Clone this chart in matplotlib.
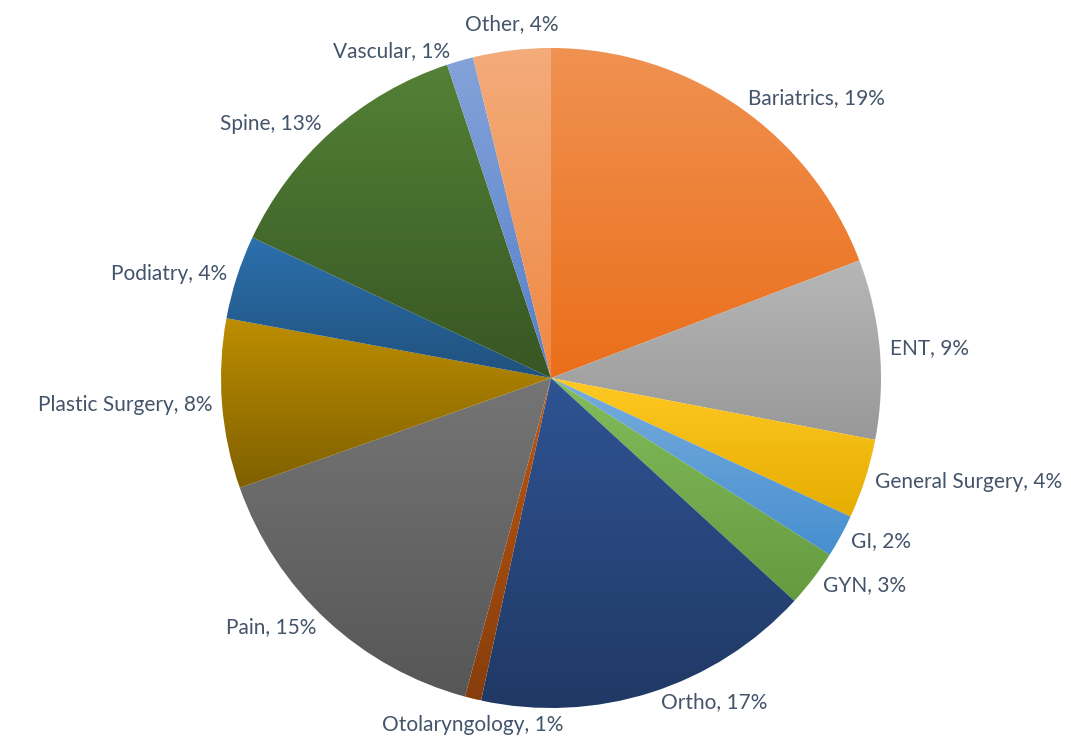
import colorsys
import matplotlib.pyplot as plt
import matplotlib.colors as mcolors
import numpy as np

plt.rcParams['font.family'] = ['Lato', 'DejaVu Sans']

specialties = ['Bariatrics', 'ENT', 'General Surgery', 'GI', 'GYN', 'Ortho',
               'Otolaryngology', 'Pain', 'Plastic Surgery', 'Podiatry', 'Spine',
               'Vascular', 'Other']
shares = [19.2, 8.8, 3.9, 2.1, 2.8, 16.6, 0.8, 15.4, 8.3, 4.1, 12.9, 1.3, 3.8]
colors = ['#ED7D31', '#A5A5A5', '#FFC000', '#5B9BD5', '#70AD47', '#264478',
          '#9E480E', '#636363', '#997300', '#255E91', '#43682B', '#698ED0',
          '#F1975A']

W, H = 1071, 740
cx, cy, R = 551, H - 378, 330
text_color = '#44546A'


def shade(c, dl):
    r, g, b = mcolors.to_rgb(c)
    h, l, s = colorsys.rgb_to_hls(r, g, b)
    return colorsys.hls_to_rgb(h, min(1, max(0, l + dl)), s)


fig = plt.figure(figsize=(W / 100, H / 100), dpi=100)
ax = fig.add_axes([0, 0, 1, 1])

wedges, _ = ax.pie(shares, colors=colors, startangle=90, counterclock=False,
                   center=(cx, cy), radius=R, frame=True,
                   wedgeprops=dict(linewidth=0))
ax.set_xlim(0, W)
ax.set_ylim(0, H)
ax.set_aspect('equal')
ax.axis('off')

# vertical gradient inside every slice: lighter on top, darker below
for w, c in zip(wedges, colors):
    x0, y0, x1, y1 = w.get_path().get_extents(w.get_patch_transform()).extents
    top = np.array(shade(c, 0.07))
    bot = np.array(shade(c, -0.05))
    t = np.linspace(0, 1, 256)[:, None]
    grad = (bot * (1 - t) + top * t)[:, None, :]
    im = ax.imshow(grad, extent=(x0, x1, y0, y1), origin='lower',
                   aspect='auto', interpolation='bilinear', zorder=2)
    im.set_clip_path(w)
    w.set_facecolor('none')

# labels just outside the rim, beside each slice's mid angle
total = sum(shares)
for w, name, v in zip(wedges, specialties, shares):
    mid = np.deg2rad((w.theta1 + w.theta2) / 2)
    ux, uy = np.cos(mid), np.sin(mid)
    if abs(ux) < 0.25:
        x = cx + R * ux
        y = cy + R * 1.05 * uy
        ha = 'center'
        va = 'bottom' if uy > 0 else 'top'
    else:
        x = cx + R * ux + 10 * np.sign(ux)
        y = cy + R * 1.03 * uy
        ha = 'left' if ux > 0 else 'right'
        va = 'center'
    ax.text(x, y, f'{name}, {round(v / total * 100)}%', ha=ha, va=va,
            fontsize=15, color=text_color, zorder=5)

fig.savefig('out.png', dpi=100, facecolor='white')
